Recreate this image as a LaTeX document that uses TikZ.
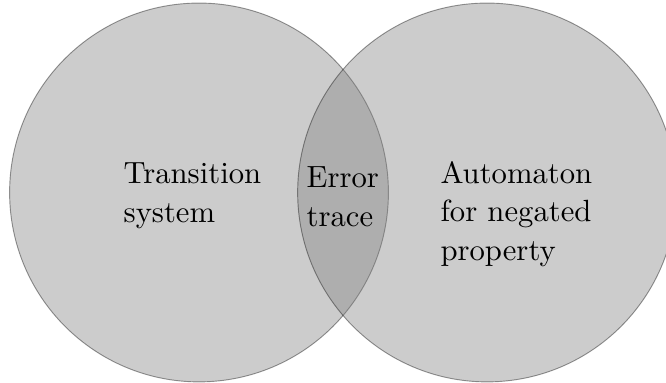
\documentclass[tikz,border=0pt]{standalone}
\usepackage{tikz}

\begin{document}
\begin{tikzpicture}[set/.style = {draw, line width=0.3pt, fill=gray, opacity=0.4}, setlabel/.style = {align=left, anchor=north west, inner sep=0pt, font=\fontsize{10}{12.6}\selectfont}]
	\useasboundingbox (-2.28,-2.18) rectangle (5.35,2.205);
	\draw[set] (0,0) circle (2.17cm);
	\draw[set] (3.3,0) circle (2.17cm);
	\node[setlabel] (ts) at (-0.87,0.349) {Transition\\system};
	\node[setlabel] (err) at (1.226,0.304) {Error\\trace};
	\node[setlabel] (aut) at (2.76,0.364) {Automaton\\for negated\\property};
\end{tikzpicture}
\end{document}
